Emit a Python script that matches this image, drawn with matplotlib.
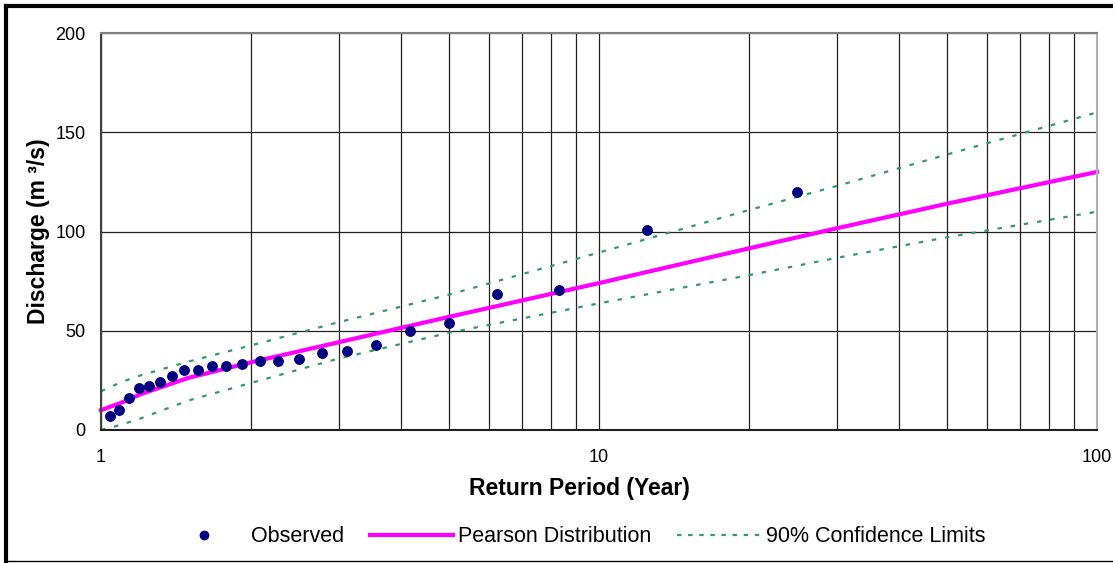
import matplotlib.pyplot as plt
from matplotlib.lines import Line2D
from matplotlib.ticker import FixedLocator, NullFormatter

plt.rcParams['font.family'] = ['Liberation Sans', 'DejaVu Sans']

# observed annual peaks, plotted at their return periods
obs_T = [25.0, 12.5, 8.33, 6.25, 5.0, 4.17, 3.57, 3.125, 2.78, 2.5, 2.27, 2.083,
         1.923, 1.786, 1.667, 1.5625, 1.47, 1.389, 1.316, 1.25, 1.19, 1.136, 1.087, 1.042]
obs_Q = [120, 101, 70.5, 68.5, 54, 50, 43, 40, 39, 36, 35, 35,
         33, 32, 32, 30, 30, 27, 24, 22, 21, 16, 10, 7]

# fitted curve and confidence band
fit_T = [1.0, 1.1, 1.2, 1.5, 2, 3, 5, 10, 20, 30, 50, 100]
pearson_Q = [10, 13.8, 18, 26.3, 34.1, 44.2, 57, 74, 91.5, 101.6, 114, 130]
upper_Q = [19.5, 24.2, 27.5, 34.5, 42.6, 54.3, 68.2, 89.4, 110.8, 122.9, 138.8, 160]
lower_Q = [0, 2.7, 5.8, 14.9, 23.7, 36, 49, 63.8, 78, 86.7, 97.1, 110]

fig = plt.figure(figsize=(11.13, 5.63), dpi=100)
ax = fig.add_axes([101 / 1113, 1 - 430 / 563, 996 / 1113, 397 / 563])

ax.set_xscale('log')
ax.set_xlim(1, 100)
ax.set_ylim(0, 200)

ax.xaxis.set_major_locator(FixedLocator([1, 10, 100]))
ax.xaxis.set_minor_locator(FixedLocator([2, 3, 4, 5, 6, 7, 8, 9,
                                         20, 30, 40, 50, 60, 70, 80, 90]))
ax.xaxis.set_minor_formatter(NullFormatter())
ax.set_xticklabels(['1', '10', '100'])
ax.set_yticks([0, 50, 100, 150, 200])
ax.tick_params(which='both', length=0, labelsize=13)
ax.tick_params(axis='x', pad=14)
ax.tick_params(axis='y', pad=11)

ax.grid(True, which='both', axis='x', color='#202020', lw=0.9)
ax.grid(True, which='major', axis='y', color='#202020', lw=0.9)
ax.set_axisbelow(True)

ax.spines['left'].set_color('#404040')
ax.spines['bottom'].set_color('#202020')
ax.spines['top'].set_color('#808080')
ax.spines['right'].set_color('#b0b0b0')
for s in ax.spines.values():
    s.set_linewidth(1.5)

green = '#339966'
dots = (0, (2, 4))
ax.plot(fit_T, upper_Q, color=green, lw=1.6, ls=dots, clip_on=False)
ax.plot(fit_T, lower_Q, color=green, lw=1.6, ls=dots, clip_on=False)
ax.plot(fit_T, pearson_Q, color='#ff00ff', lw=3, clip_on=False)
ax.plot(obs_T, obs_Q, 'o', color='#000080', ms=6.8, ls='none', clip_on=False)

ax.set_xlabel('Return Period (Year)', fontsize=16.5, fontweight='bold')
ax.xaxis.set_label_coords(0.48, -0.118)
ax.set_ylabel('Discharge (m \u00b3/s)', fontsize=16.5, fontweight='bold', labelpad=4)

handles = [
    Line2D([], [], marker='o', color='#000080', ls='none', ms=6),
    Line2D([], [], color='#ff00ff', lw=3),
    Line2D([], [], color=green, lw=1.6, ls=(0, (2, 3))),
]
labels = ['Observed', 'Pearson Distribution', '90% Confidence Limits']
fig.legend(handles, labels, loc='center', bbox_to_anchor=(574 / 1113, 1 - 537 / 563),
           ncol=3, frameon=False, fontsize=15.5, handlelength=3.85,
           columnspacing=1.2, handletextpad=0.25)

# outer chart frame
fig.add_artist(Line2D([6 / 1113, 6 / 1113], [1 - 6 / 563, 1 - 561 / 563],
                      transform=fig.transFigure, color='black', lw=3))
fig.add_artist(Line2D([6 / 1113, 1.0], [1 - 6 / 563, 1 - 6 / 563],
                      transform=fig.transFigure, color='black', lw=3))
fig.add_artist(Line2D([6 / 1113, 1.0], [1 - 561 / 563, 1 - 561 / 563],
                      transform=fig.transFigure, color='black', lw=1))

fig.savefig('out.png', dpi=100)
